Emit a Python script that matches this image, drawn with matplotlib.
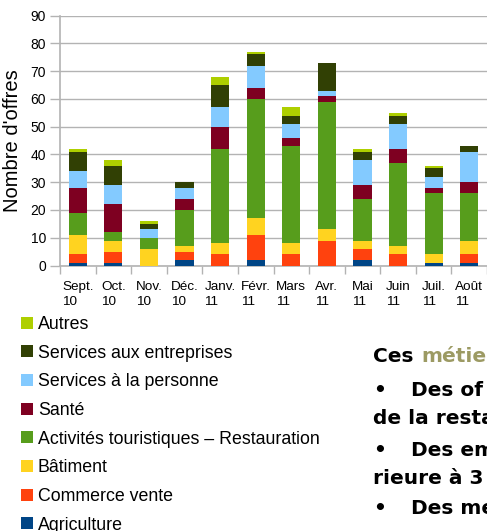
"""Offres d'emploi par secteur, sept. 2010 - août 2011 (barres empilées)."""
import matplotlib
matplotlib.use("Agg")
import matplotlib.pyplot as plt
import numpy as np

plt.rcParams["font.family"] = ["Liberation Sans", "DejaVu Sans"]

months = ["Sept.\n10", "Oct.\n10", "Nov.\n10", "Déc.\n10", "Janv.\n11", "Févr.\n11",
          "Mars\n11", "Avr.\n11", "Mai\n11", "Juin\n11", "Juil.\n11", "Août\n11"]

# stacked bottom -> top
agriculture = [1, 1, 0, 2, 0, 2, 0, 0, 2, 0, 1, 1]
commerce = [3, 4, 0, 3, 4, 9, 4, 9, 4, 4, 0, 3]
batiment = [7, 4, 6, 2, 4, 6, 4, 4, 3, 3, 3, 5]
tourisme = [8, 3, 4, 13, 34, 43, 35, 46, 15, 30, 22, 17]
sante = [9, 10, 0, 4, 8, 4, 3, 2, 5, 5, 2, 4]
serv_personne = [6, 7, 3, 4, 7, 8, 5, 2, 9, 9, 4, 11]
serv_entreprises = [7, 7, 2, 2, 8, 4, 3, 10, 3, 3, 3, 2]
autres = [1, 2, 1, 0, 3, 1, 3, 0, 1, 1, 1, 0]

series = [
    ("Agriculture", agriculture, "#004586"),
    ("Commerce vente", commerce, "#ff420e"),
    ("Bâtiment", batiment, "#ffd320"),
    ("Activités touristiques – Restauration", tourisme, "#579d1c"),
    ("Santé", sante, "#7e0021"),
    ("Services à la personne", serv_personne, "#83caff"),
    ("Services aux entreprises", serv_entreprises, "#314004"),
    ("Autres", autres, "#aecf00"),
]

fig = plt.figure(figsize=(4.87, 5.31), dpi=100)
ax = fig.add_axes([60 / 487, 0.5, 1 - 60 / 487, 0.4708])

x = np.arange(len(months))
bottom = np.zeros(len(months))
handles = []
for name, vals, color in series:
    h = ax.bar(x, vals, width=0.51, bottom=bottom, color=color, label=name, zorder=3)
    handles.append(h)
    bottom += np.array(vals)

grid_c = "#b3b3b3"
ax.set_xlim(-0.5, len(months) - 0.5)
ax.set_ylim(0, 90)
ax.set_yticks(range(0, 91, 10))
ax.yaxis.grid(True, color=grid_c, lw=1.0, zorder=0)
ax.tick_params(axis="y", length=7, color=grid_c, width=1.0, pad=3, labelsize=10)
ax.set_xticks(x)
ax.set_xticklabels(months, fontsize=9.7, multialignment="left", linespacing=1.35)
ax.set_xticks(np.arange(-0.5, len(months)), minor=True)
ax.tick_params(axis="x", which="major", length=0, pad=11)
ax.tick_params(axis="x", which="minor", length=6, color=grid_c, width=1.0)
for side in ("top", "right"):
    ax.spines[side].set_visible(False)
for side in ("left", "bottom"):
    ax.spines[side].set_color(grid_c)
    ax.spines[side].set_linewidth(1.2)
ax.set_ylabel("Nombre d'offres", fontsize=14.5, labelpad=6)

fig.legend(handles[::-1], [s[0] for s in series][::-1], loc="upper left",
           bbox_to_anchor=(21 / 487, 1 - 316 / 531), frameon=False, fontsize=12.8,
           handlelength=0.65, handleheight=0.65, handletextpad=0.3,
           labelspacing=0.655, borderaxespad=0, borderpad=0)

# texte de la page voisine, coupé par le bord droit
bold = dict(fontsize=14.5, fontweight="bold", va="center", family="DejaVu Sans")
fig.text(373 / 487, 1 - 357 / 531, "Ces", **bold)
fig.text(421 / 487, 1 - 357 / 531, "métie", color="#9c9a63", **bold)
for y, bullet, txt in [(391, True, "Des of"), (419, False, "de la resta"),
                       (450, True, "Des em"), (478, False, "rieure à 3"),
                       (508, True, "Des me")]:
    if bullet:
        fig.text(373 / 487, 1 - y / 531, "•", **bold)
        fig.text(411 / 487, 1 - y / 531, txt, **bold)
    else:
        fig.text(373 / 487, 1 - y / 531, txt, **bold)

fig.savefig("out.png", dpi=100)
